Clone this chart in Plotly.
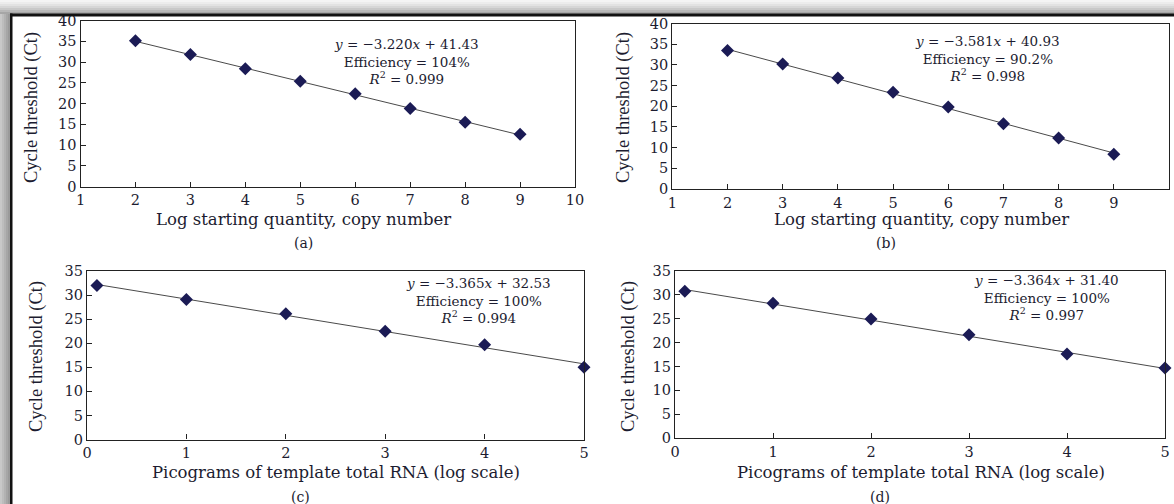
import plotly.graph_objects as go

W, H = 1174, 504

# ---------------- data ----------------
a_x = [2, 3, 4, 5, 6, 7, 8, 9]
a_y = [35.1, 31.8, 28.4, 25.4, 22.4, 18.8, 15.5, 12.6]
b_x = [2, 3, 4, 5, 6, 7, 8, 9]
b_y = [33.5, 30.2, 26.8, 23.4, 19.8, 15.8, 12.3, 8.4]
c_x = [0.1, 1, 2, 3, 4, 5]
c_y = [32.0, 29.1, 26.1, 22.5, 19.7, 15.0]
d_x = [0.1, 1, 2, 3, 4, 5]
d_y = [30.7, 28.2, 24.9, 21.6, 17.6, 14.7]

slopes = [-3.220, -3.581, -3.365, -3.364]
intercepts = [41.43, 40.93, 32.53, 31.40]
efficiencies = ["104%", "90.2%", "100%", "100%"]
r2_values = ["0.999", "0.998", "0.994", "0.997"]
panel_labels = ["(a)", "(b)", "(c)", "(d)"]
x_titles = ["Log starting quantity, copy number", "Log starting quantity, copy number",
            "Picograms of template total RNA (log scale)", "Picograms of template total RNA (log scale)"]
y_title = "Cycle threshold (Ct)"
x_ranges = [[1, 10], [1, 10], [0, 5], [0, 5]]
y_ranges = [[0, 40], [0, 40], [0, 35], [0, 35]]

xs = [a_x, b_x, c_x, d_x]
ys = [a_y, b_y, c_y, d_y]

# ---------------- layout helpers (pixel -> paper) ----------------
def px(x):
    return x / W

def py(y):
    return 1 - y / H

# plot boxes in pixels: (left, right, top, bottom)
boxes = [(80.5, 575, 20.5, 186.7), (672.3, 1169, 23.5, 189),
         (87, 584, 271, 439.5), (675, 1165, 270.7, 438.3)]
eq_pos = [(406, 61), (987, 58), (478, 300), (1046, 297)]
xt_pos = [(303, 219), (921, 219), (336, 472), (921, 472)]
lab_pos = [(303, 243), (886, 243), (300, 497), (880, 497)]
yt_pos = [(31, 108), (623, 108), (36, 357), (628, 357)]

SERIF = "DejaVu Serif"
TXT = "#1c1c30"

fig = go.Figure()
layout = dict(width=W, height=H, margin=dict(l=0, r=0, t=0, b=0, autoexpand=False), autosize=False,
              paper_bgcolor="white", plot_bgcolor="white", showlegend=False)
annotations = []
shapes = []

for i in range(4):
    sx = "" if i == 0 else str(i + 1)
    xa, ya = "x" + sx, "y" + sx
    l, r, t, b = boxes[i]
    # trend line from regression
    tx = [xs[i][0], xs[i][-1]]
    ty = [slopes[i] * v + intercepts[i] for v in tx]
    fig.add_trace(go.Scatter(x=tx, y=ty, mode="lines", xaxis=xa, yaxis=ya,
                             line=dict(color="#4a4a4a", width=1), hoverinfo="skip"))
    fig.add_trace(go.Scatter(x=xs[i], y=ys[i], mode="markers", xaxis=xa, yaxis=ya,
                             marker=dict(symbol="diamond", size=10, color="#1b1b55",
                                         line=dict(width=0)), cliponaxis=False))
    axcommon = dict(showgrid=False, zeroline=False, showline=True, linecolor="#222222",
                    linewidth=1.2, mirror=True, ticks="inside", ticklen=5, tickcolor="#222222",
                    automargin=False,
                    tickfont=dict(family=SERIF, size=14.5, color=TXT))
    layout["xaxis" + sx] = dict(axcommon, domain=[px(l), px(r)], range=x_ranges[i], dtick=1,
                                anchor=ya)
    layout["yaxis" + sx] = dict(axcommon, domain=[py(b), py(t)], range=y_ranges[i], dtick=5,
                                anchor=xa)
    # equation text
    cx, cy = eq_pos[i]
    txt = (f"<i>y</i> = −{abs(slopes[i]):.3f}<i>x</i> + {intercepts[i]:.2f}<br>"
           f"Efficiency = {efficiencies[i]}<br>"
           f"<i>R</i><sup>2</sup> = {r2_values[i]}")
    annotations.append(dict(x=px(cx), y=py(cy), xref="paper", yref="paper", text=txt,
                            showarrow=False, xanchor="center", yanchor="middle", align="center",
                            font=dict(family=SERIF, size=13.5, color=TXT)))
    annotations.append(dict(x=px(xt_pos[i][0]), y=py(xt_pos[i][1]), xref="paper", yref="paper",
                            text=x_titles[i], showarrow=False, xanchor="center", yanchor="middle",
                            font=dict(family=SERIF, size=16.5, color=TXT)))
    annotations.append(dict(x=px(lab_pos[i][0]), y=py(lab_pos[i][1]), xref="paper", yref="paper",
                            text=panel_labels[i], showarrow=False, xanchor="center", yanchor="middle",
                            font=dict(family=SERIF, size=14, color=TXT)))
    annotations.append(dict(x=px(yt_pos[i][0]), y=py(yt_pos[i][1]), xref="paper", yref="paper",
                            text=y_title, showarrow=False, xanchor="center", yanchor="middle",
                            textangle=-90,
                            font=dict(family="Liberation Serif", size=18.5, color=TXT)))

# ---------------- outer frame with soft shadow ----------------
grays_top = ["#f4f4f4", "#ececec", "#e2e2e2", "#d6d6d6", "#c8c8c8", "#b8b8b8", "#a6a6a6"]
for k, g in enumerate(grays_top):
    shapes.append(dict(type="rect", xref="paper", yref="paper", x0=px(0), x1=px(W),
                       y0=py(2 * k + 2), y1=py(2 * k), fillcolor=g, line=dict(width=0), layer="below"))
grays_left = ["#c8c8c8", "#bdbdbd", "#b2b2b2", "#a6a6a6", "#9a9a9a"]
for k, g in enumerate(grays_left):
    shapes.append(dict(type="rect", xref="paper", yref="paper", x0=px(2 * k), x1=px(2 * k + 2),
                       y0=py(H), y1=py(14), fillcolor=g, line=dict(width=0), layer="below"))
shapes.append(dict(type="rect", xref="paper", yref="paper", x0=px(10), x1=px(W),
                   y0=py(16.5), y1=py(13.5), fillcolor="#111111", line=dict(width=0)))
shapes.append(dict(type="rect", xref="paper", yref="paper", x0=px(10), x1=px(12.5),
                   y0=py(H), y1=py(13.5), fillcolor="#111111", line=dict(width=0)))

layout["annotations"] = annotations
layout["shapes"] = shapes
fig.update_layout(**layout)
fig.write_html("out.html", config={"displayModeBar": False},
               post_script="document.body.style.margin='0';document.body.style.overflow='hidden';")
